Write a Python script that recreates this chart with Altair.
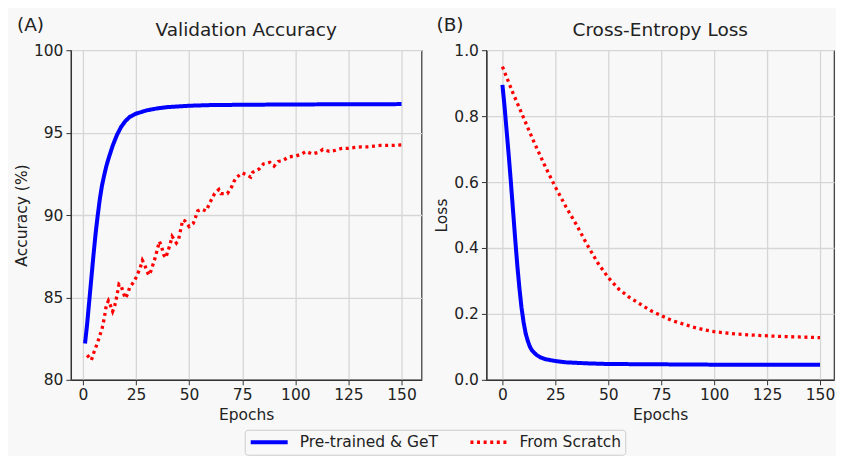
import altair as alt
import pandas as pd

SERIES = ["Pre-trained & GeT", "From Scratch"]

# Panel A: validation accuracy (%)
acc_pre_epochs = [1, 2, 3, 4, 5, 6, 7, 8, 9, 10, 11, 12, 14, 16, 18, 20, 22, 25, 30, 35, 40, 50, 60, 75, 100, 125, 150]
acc_pre = [82.2, 83.4, 84.8, 86.2, 87.6, 88.9, 90.0, 91.0, 91.8, 92.4, 92.95, 93.4, 94.2, 94.85, 95.35, 95.7,
           95.95, 96.15, 96.35, 96.47, 96.55, 96.63, 96.67, 96.69, 96.71, 96.72, 96.73]

acc_scr_epochs = [2, 4, 5, 6, 7, 8, 9, 10, 11, 12, 13, 14, 15, 16, 17, 18, 19, 20, 21, 22, 24, 25, 27, 28, 29, 30,
                  31, 32, 33, 34, 35, 36, 37, 38, 39, 40, 41, 42, 43, 44, 45, 46, 47, 48, 50, 52, 53, 54, 56, 58,
                  60, 62, 64, 65, 68, 70, 71, 72, 75, 77, 79, 80, 83, 85, 88, 90, 92, 94, 97, 100, 103, 105, 108,
                  111, 113, 116, 119, 122, 125, 128, 131, 134, 137, 140, 143, 146, 150]
acc_scr = [81.5, 81.2, 81.6, 81.95, 82.3, 82.7, 83.1, 83.7, 84.5, 84.8, 84.5, 84.15, 84.5, 85.1, 85.8, 85.7, 85.3,
           84.95, 85.2, 85.6, 85.95, 86.2, 86.8, 87.25, 87.0, 86.65, 86.35, 86.6, 87.0, 87.4, 87.9, 88.4, 88.1,
           87.6, 87.4, 87.8, 88.2, 88.7, 88.5, 88.3, 88.5, 89.1, 89.7, 89.65, 89.3, 89.5, 89.85, 90.25, 90.35,
           90.25, 90.8, 91.3, 91.55, 91.3, 91.3, 91.7, 92.0, 92.25, 92.55, 92.45, 92.3, 92.6, 92.8, 93.1, 93.2,
           92.97, 93.25, 93.3, 93.53, 93.57, 93.7, 93.86, 93.7, 93.81, 93.98, 93.86, 93.93, 94.05, 94.05, 94.1,
           94.14, 94.14, 94.18, 94.22, 94.22, 94.22, 94.26]

# Panel B: cross-entropy loss
loss_pre_epochs = [0, 1, 2, 3, 4, 5, 6, 7, 8, 9, 10, 11, 12, 13, 14, 16, 18, 20, 25, 30, 40, 50, 75, 100, 125, 150]
loss_pre = [0.895, 0.83, 0.755, 0.68, 0.6, 0.515, 0.43, 0.35, 0.28, 0.22, 0.175, 0.14, 0.118, 0.1, 0.089, 0.076,
            0.068, 0.063, 0.057, 0.053, 0.05, 0.048, 0.047, 0.046, 0.046, 0.046]

loss_scr_epochs = [0, 5, 10, 15, 20, 25, 30, 35, 40, 45, 50, 55, 60, 65, 70, 75, 80, 85, 90, 95, 100, 110, 120,
                   130, 140, 150]
loss_scr = [0.95, 0.87, 0.795, 0.72, 0.65, 0.585, 0.525, 0.47, 0.41, 0.355, 0.31, 0.275, 0.25, 0.23, 0.21, 0.195,
            0.18, 0.17, 0.16, 0.152, 0.146, 0.139, 0.135, 0.132, 0.13, 0.128]

x_ticks = [0, 25, 50, 75, 100, 125, 150]
acc_ticks = [80, 85, 90, 95, 100]
loss_ticks = [0.0, 0.2, 0.4, 0.6, 0.8, 1.0]


def frame(epochs_a, vals_a, epochs_b, vals_b):
    a = pd.DataFrame({"epoch": epochs_a, "value": vals_a, "series": SERIES[0]})
    b = pd.DataFrame({"epoch": epochs_b, "value": vals_b, "series": SERIES[1]})
    return pd.concat([a, b], ignore_index=True)


df_acc = frame(acc_pre_epochs, acc_pre, acc_scr_epochs, acc_scr)
df_loss = frame(loss_pre_epochs, loss_pre, loss_scr_epochs, loss_scr)

FONT = "DejaVu Sans"
BG = "#f8f8f8"
H = 330

legend = alt.Legend(
    title=None, orient="none", legendX=174, legendY=380, direction="horizontal",
    symbolType="stroke", symbolSize=1369, symbolStrokeWidth=4, labelFontSize=15.5,
    labelFont=FONT, labelColor="#222", columnPadding=30, labelOffset=10, clipHeight=17,
    strokeColor="#cccccc", fillColor=BG, padding=4, cornerRadius=3,
)
color = alt.Color("series:N", scale=alt.Scale(domain=SERIES, range=["#0000ff", "#ff0000"]), legend=legend)
dash = alt.StrokeDash("series:N", scale=alt.Scale(domain=SERIES, range=[[1, 0], [3, 3.6]]), legend=legend)
width_enc = alt.StrokeWidth("series:N", scale=alt.Scale(domain=SERIES, range=[4, 3.3]), legend=None)


def panel(df, letter, letter_x, title, ydomain, yticks, yfmt, ytitle, xdomain, w):
    lines = alt.Chart(df).mark_line(strokeCap="butt", clip=True).encode(
        x=alt.X("epoch:Q", scale=alt.Scale(domain=xdomain, nice=False, zero=False),
                axis=alt.Axis(values=x_ticks, title="Epochs", format="d")),
        y=alt.Y("value:Q", scale=alt.Scale(domain=ydomain, nice=False, zero=False),
                axis=alt.Axis(values=yticks, title=ytitle, format=yfmt)),
        color=color,
        strokeDash=dash,
        strokeWidth=width_enc,
        detail="series:N",
    )
    lab = alt.Chart(pd.DataFrame({"t": [letter]})).mark_text(
        align="left", baseline="alphabetic", fontSize=18.5, font=FONT, color="#222"
    ).encode(text="t:N", x=alt.value(letter_x), y=alt.value(-19))
    ttl = alt.Chart(pd.DataFrame({"t": [title]})).mark_text(
        align="center", baseline="alphabetic", fontSize=18.5, font=FONT, color="#222"
    ).encode(text="t:N", x=alt.value(w / 2), y=alt.value(-14.5))
    return alt.layer(lines, lab, ttl).properties(width=w, height=H)


pA = panel(df_acc, "(A)", -54, "Validation Accuracy", [80, 100], acc_ticks, "d", "Accuracy (%)",
           [-5.64, 159.4], 351)
pB = panel(df_loss, "(B)", -50, "Cross-Entropy Loss", [0, 1], loss_ticks, ".1f", "Loss",
           [-7.55, 156.6], 348)

chart = alt.hconcat(pA, pB, spacing=11).properties(
    background=BG,
    padding={"left": 5, "top": 7, "right": 0, "bottom": 0},
).configure_view(
    stroke="#333333", strokeWidth=1.2, fill=BG,
).configure_axis(
    labelFont=FONT, titleFont=FONT, labelFontSize=15.5, titleFontSize=15.5, titleFontWeight="normal",
    labelColor="#222", titleColor="#222", domainColor="#333", tickColor="#333", tickSize=5,
    gridColor="#d6d6d6", gridWidth=1.3, labelPadding=3, titlePadding=4, domainWidth=1.2,
)

chart.save("out.html", embed_options={"renderer": "svg", "actions": False})
